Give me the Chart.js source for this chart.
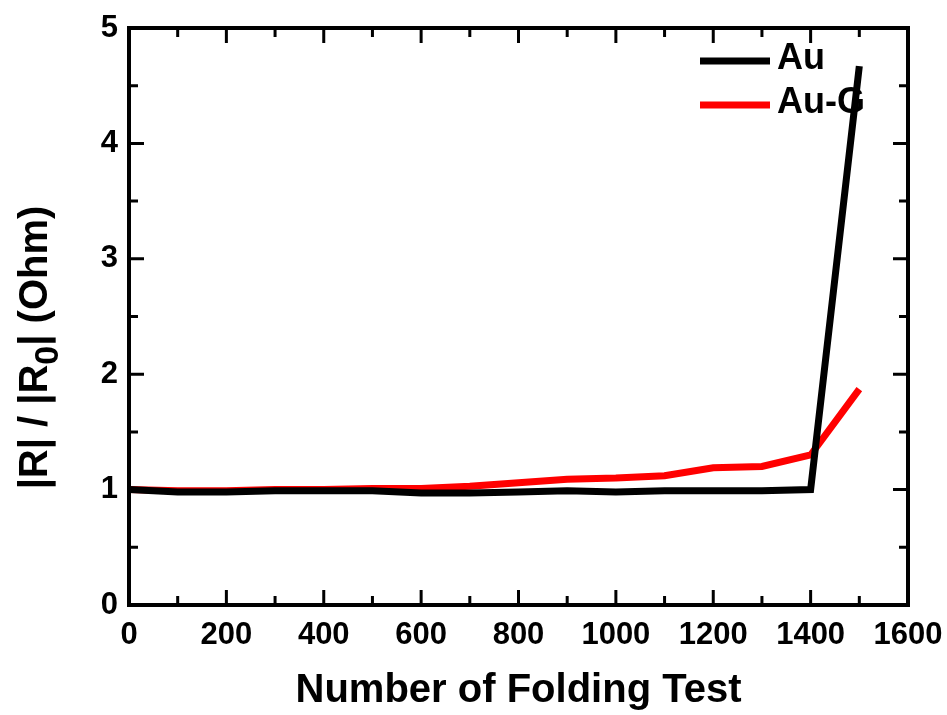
<!DOCTYPE html>
<html>
<head>
<meta charset="utf-8">
<script src="https://cdn.jsdelivr.net/npm/chart.js@4.4.0/dist/chart.umd.min.js"></script>
<style>
  html, body { margin: 0; padding: 0; background: #fff; }
  #wrap { width: 947px; height: 715px; }
</style>
</head>
<body>
<div id="wrap"><canvas id="grafica"></canvas></div>
<script>
const foldings = [0, 100, 200, 300, 400, 500, 600, 700, 800, 900, 1000, 1100, 1200, 1300, 1400, 1500];
const auValues = [1.0, 0.98, 0.98, 0.99, 0.99, 0.99, 0.97, 0.97, 0.98, 0.99, 0.98, 0.99, 0.99, 0.99, 1.0, 4.67];
const auGValues = [1.0, 0.99, 0.99, 1.0, 1.0, 1.01, 1.01, 1.03, 1.06, 1.09, 1.10, 1.12, 1.19, 1.20, 1.30, 1.87];
const xTicks = [0, 200, 400, 600, 800, 1000, 1200, 1400, 1600];
const yTicks = [0, 1, 2, 3, 4, 5];
const seriesNames = ['Au', 'Au-G'];
const seriesColors = ['#000000', '#ff0000'];

const fam = "'Liberation Sans', Arial, sans-serif";

function toPoints(vals) {
    return foldings.map((f, i) => ({ x: f, y: vals[i] }));
}

// frame + inward ticks on all four sides
const framePlugin = {
    id: 'frame',
    afterDatasetsDraw(chart) {
        const { ctx, chartArea: a, scales: { x, y } } = chart;
        ctx.save();
        ctx.strokeStyle = '#000';
        ctx.lineWidth = 4;
        ctx.strokeRect(a.left, a.top, a.right - a.left, a.bottom - a.top);
        ctx.lineWidth = 3;
        ctx.beginPath();
        for (let v = 0; v <= 1600; v += 100) {
            const px = x.getPixelForValue(v);
            const len = v % 200 === 0 ? 15 : 9;
            ctx.moveTo(px, a.bottom); ctx.lineTo(px, a.bottom - len);
            ctx.moveTo(px, a.top); ctx.lineTo(px, a.top + len);
        }
        for (let v = 0; v <= 5; v += 0.5) {
            const py = y.getPixelForValue(v);
            const len = v % 1 === 0 ? 15 : 9;
            ctx.moveTo(a.left, py); ctx.lineTo(a.left + len, py);
            ctx.moveTo(a.right, py); ctx.lineTo(a.right - len, py);
        }
        ctx.stroke();
        ctx.restore();
    }
};

// legend inside the plot, drawn under the lines
const legendPlugin = {
    id: 'legendaInterna',
    beforeDatasetsDraw(chart) {
        const { ctx } = chart;
        const rows = [61, 105];
        ctx.save();
        ctx.font = 'bold 36px ' + fam;
        ctx.textBaseline = 'middle';
        seriesNames.forEach((name, i) => {
            ctx.strokeStyle = seriesColors[i];
            ctx.lineWidth = 7;
            ctx.beginPath();
            ctx.moveTo(700, rows[i]);
            ctx.lineTo(770, rows[i]);
            ctx.stroke();
            ctx.fillStyle = '#000';
            ctx.fillText(name, 777, rows[i] - 2);
        });
        ctx.restore();
    }
};

// y title with subscript
const yTitlePlugin = {
    id: 'tituloY',
    afterDraw(chart) {
        const { ctx, chartArea: a } = chart;
        const cy = (a.top + a.bottom) / 2 + 31;
        const parts = [
            { t: '|R| / |R', size: 40, dy: 0 },
            { t: '0', size: 34, dy: 11 },
            { t: '| (Ohm)', size: 40, dy: 0 }
        ];
        ctx.save();
        ctx.fillStyle = '#000';
        ctx.textBaseline = 'alphabetic';
        ctx.textAlign = 'left';
        let total = 0;
        parts.forEach(p => {
            ctx.font = 'bold ' + p.size + 'px ' + fam;
            p.w = ctx.measureText(p.t).width;
            total += p.w;
        });
        ctx.translate(47, cy);
        ctx.rotate(-Math.PI / 2);
        let pos = -total / 2;
        parts.forEach(p => {
            ctx.font = 'bold ' + p.size + 'px ' + fam;
            ctx.fillText(p.t, pos, p.dy);
            pos += p.w;
        });
        ctx.restore();
    }
};

const ctx = document.getElementById('grafica').getContext('2d');
const grafica = new Chart(ctx, {
    type: 'line',
    data: {
        datasets: [
            {
                label: seriesNames[0],
                data: toPoints(auValues),
                borderColor: seriesColors[0],
                borderWidth: 7
            },
            {
                label: seriesNames[1],
                data: toPoints(auGValues),
                borderColor: seriesColors[1],
                borderWidth: 7
            }
        ]
    },
    options: {
        responsive: true,
        maintainAspectRatio: false,
        animation: false,
        layout: { padding: { top: 28, right: 39, left: 0, bottom: 0 } },
        elements: {
            point: { radius: 0 },
            line: { tension: 0, borderJoinStyle: 'miter', borderCapStyle: 'butt' }
        },
        plugins: {
            legend: { display: false },
            tooltip: { enabled: false }
        },
        scales: {
            x: {
                type: 'linear',
                min: 0,
                max: 1600,
                afterFit(s) { s.height = 110; },
                afterBuildTicks(s) { s.ticks = xTicks.map(v => ({ value: v })); },
                grid: { display: false },
                border: { display: false },
                ticks: {
                    color: '#000',
                    padding: 4,
                    maxRotation: 0,
                    autoSkip: false,
                    callback: v => String(v),
                    font: { family: fam, weight: 'bold', size: 31 }
                },
                title: {
                    display: true,
                    text: 'Number of Folding Test',
                    color: '#000',
                    font: { family: fam, weight: 'bold', size: 40 },
                    padding: { top: 0, bottom: 0 }
                }
            },
            y: {
                min: 0,
                max: 5,
                afterFit(s) { s.width = 129; },
                afterBuildTicks(s) { s.ticks = yTicks.map(v => ({ value: v })); },
                grid: { display: false },
                border: { display: false },
                ticks: {
                    color: '#000',
                    padding: 3,
                    callback: v => String(v),
                    font: { family: fam, weight: 'bold', size: 31 }
                }
            }
        }
    },
    plugins: [framePlugin, legendPlugin, yTitlePlugin]
});
</script>
</body>
</html>
